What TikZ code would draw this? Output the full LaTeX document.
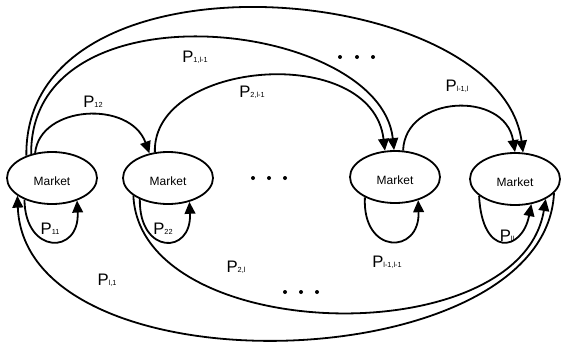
\documentclass[tikz,border=0pt]{standalone}
\usepackage{fontspec}
\setmainfont{Liberation Sans}
\usetikzlibrary{shapes.geometric,arrows.meta}
\newcommand{\prob}[1]{P{\fontsize{5.5}{6}\selectfont #1}}

\begin{document}
\begin{tikzpicture}[x=0.75pt, y=-0.75pt, line width=1.35pt,
    market/.style={draw, ellipse, minimum width=67.5pt, minimum height=39pt,
        inner sep=0pt, text height=12pt, font=\fontsize{9}{10}\selectfont},
    flow/.style={-{Triangle[length=9pt,width=8pt]}},
    problbl/.style={inner sep=0pt, font=\fontsize{12.5}{14}\selectfont}]
    \useasboundingbox (0,0) rectangle (563,343);
    % the four markets
    \node[market] (m1) at (52,178) {Market};
    \node[market] (m2) at (168,178) {Market};
    \node[market] (m3) at (395,177) {Market};
    \node[market] (m4) at (515,179) {Market};
    % arcs above
    \draw[flow] (m1.139) .. controls (24,-60) and (500,-20) .. (m4.73);
    \draw[flow] (m1.131) .. controls (30,-20) and (380,20) .. (m3.92);
    \draw[flow] (m1.124) .. controls (40,105) and (130,100) .. (m2.127);
    \draw[flow] (m2.117) .. controls (152,60) and (372,42) .. (m3.111);
    \draw[flow] (m3.73) .. controls (405,95) and (505,90) .. (m4.90);
    % loops
    \draw[flow] (m1.218) .. controls (25,255) and (80,255) .. (m1.318);
    \draw[flow] (m2.217) .. controls (139,255) and (192,255) .. (m2.312);
    \draw[flow] (m3.214) .. controls (362,255) and (420,255) .. (m3.315);
    \draw[flow] (m4.205) .. controls (482,258) and (522,252) .. (m4.303);
    % arcs below
    \draw[flow] (m2.207) .. controls (140,345) and (520,355) .. (m4.327);
    \draw[flow] (m4.340) .. controls (545,380) and (25,395) .. (m1.207);
    % labels
    \node[problbl] (p12) at (93,102) {\prob{12}};
    \node[problbl] (p1l) at (195,57) {\prob{1,l-1}};
    \node[problbl] (p2l1) at (252,92) {\prob{2,l-1}};
    \node[problbl] (pl1l) at (457,86) {\prob{l-1,l}};
    \node[problbl] (p11) at (50,229) {\prob{11}};
    \node[problbl] (p22) at (163,229) {\prob{22}};
    \node[problbl] (p2l) at (236,267) {\prob{2,l}};
    \node[problbl] (pl1) at (107,280) {\prob{l,1}};
    \node[problbl] (pl1l1) at (387,262) {\prob{l-1,l-1}};
    \node[problbl] (pll) at (507,236) {\prob{ll}};
    % dots
    \foreach \x in {340,357,373} \fill (\x,57) circle (1.5pt);
    \foreach \x in {253,269,285} \fill (\x,178) circle (1.5pt);
    \foreach \x in {285,301,317} \fill (\x,292) circle (1.5pt);
\end{tikzpicture}
\end{document}
